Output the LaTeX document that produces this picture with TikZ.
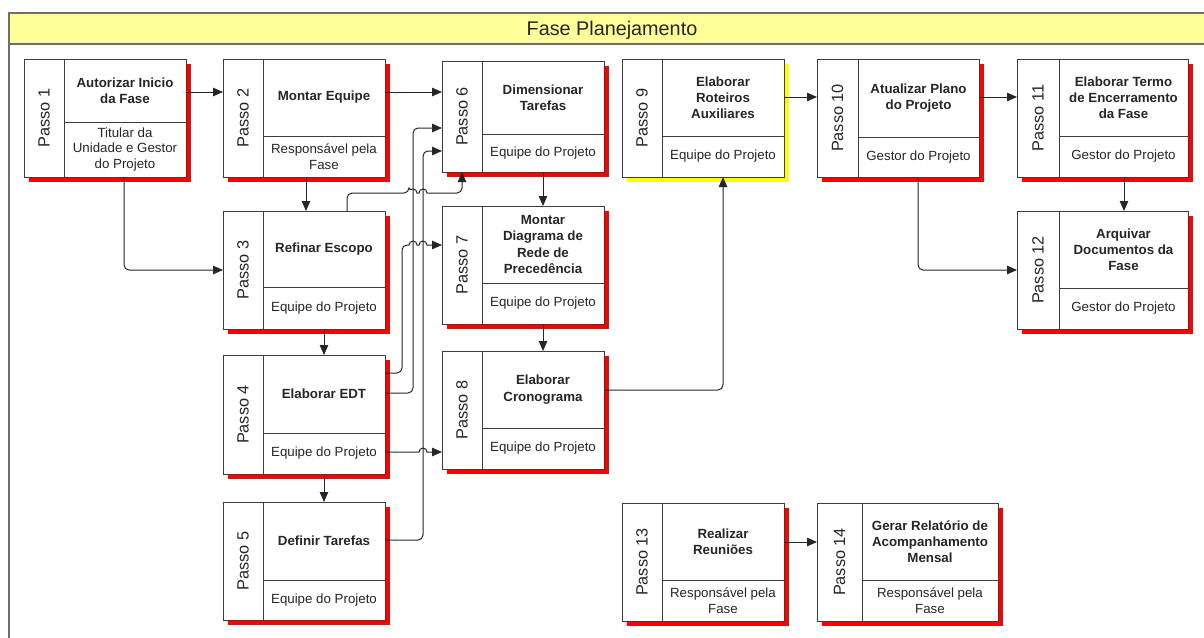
\documentclass[tikz,border=0pt]{standalone}
\usepackage{fontspec}
\setmainfont{Liberation Sans}
\usetikzlibrary{arrows.meta}

\definecolor{inkgray}{HTML}{262626}
\definecolor{edgegray}{HTML}{3C3C3C}
\definecolor{framegray}{HTML}{6E6E6E}
\definecolor{barfill}{HTML}{FFFF99}
\definecolor{shadowred}{HTML}{FF0000}
\definecolor{shadowyellow}{HTML}{FFFF00}

\tikzset{
  box/.style={rectangle, draw=edgegray, line width=1pt, fill=white, inner sep=0pt, outer sep=0pt},
  boxline/.style={draw=edgegray, line width=1pt},
  passo/.style={rotate=90, font=\fontsize{16.3}{19}\selectfont, text=inkgray, inner sep=0pt},
  titletext/.style={font=\fontsize{13.3}{16.2}\selectfont\bfseries, text=inkgray, align=center, inner sep=0pt},
  roletext/.style={font=\fontsize{13.3}{15.6}\selectfont, text=inkgray, align=center, inner sep=0pt},
  conn/.style={draw=inkgray, line width=1pt, -{Triangle[length=10pt,width=8.5pt]}},
  roundbend/.style={rounded corners=5pt},
}

% width of the "Passo" column and colour of the drop shadow
\newcommand{\colw}{40}
\newcommand{\shadecol}{shadowred}

% #1 name, #2 x, #3 y, #4 width, #5 height, #6 divider offset,
% #7 step number, #8 activity, #9 responsible
\newcommand{\passobox}[9]{%
  \fill[\shadecol] (#2+5,#3+5) rectangle ++(#4,#5);
  \node[box, minimum width=#4pt, minimum height=#5pt, anchor=north west] (#1) at (#2,#3) {};
  \draw[boxline] (#2+\colw,#3) -- ++(0,#5);
  \draw[boxline] (#2+\colw,#3+#6) -- (#2+#4,#3+#6);
  \node[passo] (#1-n) at ({#2+\colw/2},{#3+#5/2}) {Passo #7};
  \node[titletext] (#1-t) at ({#2+(\colw+#4)/2},{#3+#6/2}) {#8};
  \node[roletext] (#1-r) at ({#2+(\colw+#4)/2},{#3+(#5+#6)/2}) {#9};
}

\begin{document}
\begin{tikzpicture}[x=1pt,y=-1pt]
\useasboundingbox (0,0) rectangle (1204,637);

% phase frame and its header bar
\begin{scope}
  \clip (0,0) rectangle (1204,637);
  \draw[framegray, line width=1.5pt] (9,13) rectangle (1220,660);
  \draw[framegray, line width=1.5pt, fill=barfill] (9,13) rectangle (1220,44);
\end{scope}
\node[font=\fontsize{19.8}{22}\selectfont, text=inkgray, anchor=base] (phase) at (612,35.5) {Fase Planejamento};

% steps
\passobox{p1}{24}{59}{162}{118}{63}{1}{Autorizar Inicio\\da Fase}{Titular da\\Unidade e Gestor\\do Projeto}
\passobox{p2}{223}{59}{162}{118}{77}{2}{Montar Equipe}{Responsável pela\\Fase}
\passobox{p3}{223}{211}{162}{118}{76}{3}{Refinar Escopo}{Equipe do Projeto}
\passobox{p4}{223}{355}{162}{119}{78}{4}{Elaborar EDT}{Equipe do Projeto}
\passobox{p5}{223}{502}{162}{118}{78}{5}{Definir Tarefas}{Equipe do Projeto}
\passobox{p6}{442}{61}{162}{111}{73}{6}{Dimensionar\\Tarefas}{Equipe do Projeto}
\passobox{p7}{442}{206}{162}{118}{77}{7}{Montar\\Diagrama de\\Rede de\\Precedência}{Equipe do Projeto}
\passobox{p8}{442}{351}{162}{118}{77}{8}{Elaborar\\Cronograma}{Equipe do Projeto}
\renewcommand{\shadecol}{shadowyellow}
\passobox{p9}{622}{59}{162}{118}{77}{9}{Elaborar\\Roteiros\\Auxiliares}{Equipe do Projeto}
\renewcommand{\shadecol}{shadowred}
\renewcommand{\colw}{41}
\passobox{p10}{817}{59}{162}{118}{78}{10}{Atualizar Plano\\do Projeto}{Gestor do Projeto}
\renewcommand{\colw}{42}
\passobox{p11}{1017}{59}{171}{118}{77}{11}{Elaborar Termo\\de Encerramento\\da Fase}{Gestor do Projeto}
\passobox{p12}{1017}{211}{171}{118}{77}{12}{Arquivar\\Documentos da\\Fase}{Gestor do Projeto}
\renewcommand{\colw}{40}
\passobox{p13}{622}{503}{162}{118}{77}{13}{Realizar\\Reuniões}{Responsável pela\\Fase}
\renewcommand{\colw}{45}
\passobox{p14}{817}{503}{181}{118}{77}{14}{Gerar Relatório de\\Acompanhamento\\Mensal}{Responsável pela\\Fase}

% connectors
\draw[conn] (p1.east |- 0,92) -- (p2.west |- 0,92);
\draw[conn] (p2.east |- 0,92) -- (p6.west |- 0,92);
\draw[conn, roundbend] (p1.south -| 124,0) |- (p3.west |- 0,270);
\draw[conn] (p2.south -| 306,0) -- (p3.north -| 306,0);
\draw[conn] (p3.south -| 324,0) -- (p4.north -| 324,0);
\draw[conn] (p4.south -| 324,0) -- (p5.north -| 324,0);

\draw[conn] (p3.north -| 347,0) [roundbend]-- (347,193) -- (409,193) [sharp corners]
  arc[start angle=180, end angle=0, radius=4pt] -- (419,193)
  arc[start angle=180, end angle=0, radius=4pt] [roundbend]-- (462,193) -- (p6.south -| 462,0);
\draw[conn] (p4.east |- 0,373) [roundbend]-- (402,373) -- (402,245) [sharp corners] -- (409,245)
  arc[start angle=180, end angle=0, radius=4pt] -- (419,245)
  arc[start angle=180, end angle=0, radius=4pt] -- (p7.west |- 0,245);
\draw[conn, roundbend] (p4.east |- 0,393) -- (413,393) -- (413,128) -- (p6.west |- 0,128);
\draw[conn] (p4.east |- 0,452) -- (419,452)
  arc[start angle=180, end angle=0, radius=4pt] -- (p8.west |- 0,452);
\draw[conn, roundbend] (p5.east |- 0,540) -- (423,540) -- (423,151) -- (p6.west |- 0,151);

\draw[conn] (p6.south -| 543,0) -- (p7.north -| 543,0);
\draw[conn] (p7.south -| 543,0) -- (p8.north -| 543,0);
\draw[conn, roundbend] (p8.east |- 0,390) -| (p9.south -| 723,0);
\draw[conn] (p9.east |- 0,97) -- (p10.west |- 0,97);
\draw[conn] (p10.east |- 0,97) -- (p11.west |- 0,97);
\draw[conn, roundbend] (p10.south -| 918,0) |- (p12.west |- 0,270);
\draw[conn] (p11.south -| 1124,0) -- (p12.north -| 1124,0);
\draw[conn] (p13.east |- 0,542) -- (p14.west |- 0,542);
\end{tikzpicture}
\end{document}
